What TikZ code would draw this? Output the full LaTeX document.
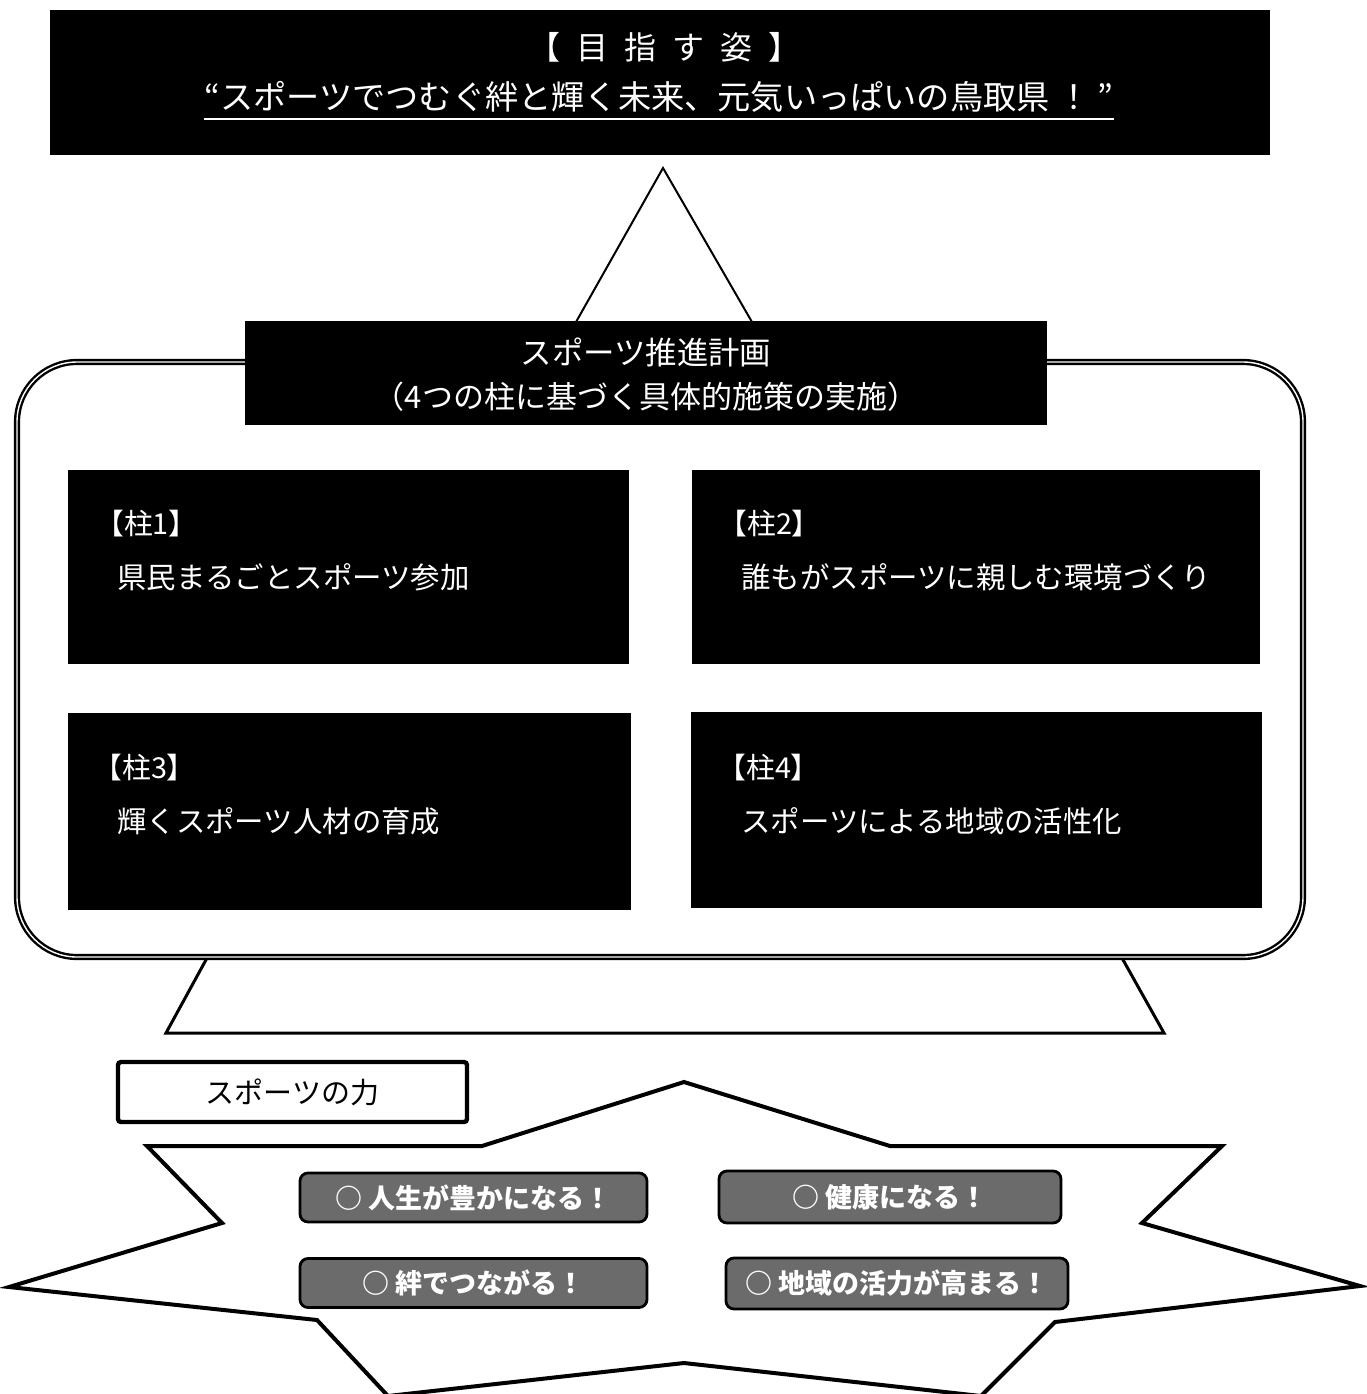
\documentclass[tikz,border=0pt]{standalone}
\usepackage{fontspec}
\setmainfont{Noto Sans CJK JP}
\begin{document}
\begin{tikzpicture}[x=0.5pt,y=-0.5pt,
  blackbox/.style={fill=black, draw=none, inner sep=0pt},
  wtext/.style={text=white, inner sep=0pt},
  pillar/.style={blackbox},
  plabel/.style={wtext, anchor=west, font=\fontsize{14.4pt}{16pt}\selectfont},
  ptext/.style={wtext, anchor=west, font=\fontsize{14.7pt}{16pt}\selectfont},
  power/.style={draw=black, line width=1.4pt, fill=black!58, rounded corners=4pt, inner sep=0pt,
    text=white, font=\fontsize{13.5pt}{15pt}\selectfont\bfseries},
  ]
\useasboundingbox[fill=white] (0,0) rectangle (1367,1394);

% top box
\node[blackbox, minimum width=610pt, minimum height=72.5pt] (top) at (660,82.5) {};
\node[wtext, font=\fontsize{16pt}{18pt}\selectfont] (title) at (664,47)
  {【\hspace{8pt}目\hspace{8pt}指\hspace{8pt}す\hspace{8pt}姿\hspace{8pt}】};
\node[wtext, font=\fontsize{16.6pt}{18pt}\selectfont] (sub) at (659,97)
  {“スポーツでつむぐ絆と輝く未来、元気いっぱいの鳥取県 ！ ”};
\draw[white, line width=1pt] ([yshift=-4.5pt]sub.base west) -- ([yshift=-4.5pt]sub.base east);

% triangle from top to plan
\coordinate (apex) at (663,168);
\coordinate (tl) at (576,322);
\coordinate (tr) at (752,322);
\draw[line width=1pt] (tl) -- (apex) -- (tr);

% trapezoid below plan
\coordinate (zl) at (207,958);
\coordinate (zbl) at (166,1033);
\coordinate (zbr) at (1164,1033);
\coordinate (zr) at (1122,958);
\draw[line width=1.5pt, line join=miter] (zl) -- (zbl) -- (zbr) -- (zr);

% rounded frame
\node[draw=black, fill=white, double=white, double distance=0.7pt, line width=1.2pt,
  rounded corners=30pt, minimum width=643pt, minimum height=297.5pt, inner sep=0pt]
  (frame) at (660,659.5) {};

% header
\node[blackbox, minimum width=401pt, minimum height=52pt] (hdr) at (646,373) {};
\node[wtext, font=\fontsize{15.7pt}{17pt}\selectfont] (h1) at (646,352) {スポーツ推進計画};
\node[wtext, font=\fontsize{15.5pt}{17pt}\selectfont] (h2) at (646,397) {（4つの柱に基づく具体的施策の実施）};

% pillars
\node[pillar, minimum width=280.5pt, minimum height=97pt] (p1) at (348.5,567) {};
\node[pillar, minimum width=284pt, minimum height=97pt] (p2) at (976,567) {};
\node[pillar, minimum width=281.5pt, minimum height=98.5pt] (p3) at (349.5,811.5) {};
\node[pillar, minimum width=285.5pt, minimum height=98pt] (p4) at (976.5,810) {};

\node[plabel] (p1l) at (95,524) {【柱1】};
\node[ptext] (p1t) at (117,577) {県民まるごとスポーツ参加};
\node[plabel] (p2l) at (718,524) {【柱2】};
\node[ptext] (p2t) at (741,577) {誰もがスポーツに親しむ環境づくり};
\node[plabel] (p3l) at (93,768) {【柱3】};
\node[ptext] (p3t) at (117,821) {輝くスポーツ人材の育成};
\node[plabel] (p4l) at (717,768) {【柱4】};
\node[ptext] (p4t) at (741,821) {スポーツによる地域の活性化};

% explosion
\draw[line width=2pt, fill=white, line join=miter]
  (684,1082) -- (890,1146) -- (1222,1146) -- (1142,1223) -- (1360,1286)
  -- (1055,1322) -- (981,1396) -- (684,1363) -- (388,1396) -- (317,1320)
  -- (9,1287) -- (222,1223) -- (147,1146) -- (482,1146) -- cycle;

% sports power label
\node[draw=black, line width=2.2pt, rounded corners=1.5pt, fill=white, minimum width=174.5pt,
  minimum height=30pt, inner sep=0pt, font=\fontsize{14.5pt}{16pt}\selectfont]
  (pw) at (292.5,1092) {スポーツの力};

% power boxes
\node[power, minimum width=173.5pt, minimum height=24.5pt] (s1) at (473.5,1197.5) {○ 人生が豊かになる！};
\node[power, minimum width=173.5pt, minimum height=24.5pt] (s2) at (473.5,1283) {○ 絆でつながる！};
\node[power, minimum width=171pt, minimum height=26pt] (s3) at (890,1197) {○ 健康になる！};
\node[power, minimum width=171pt, minimum height=25.5pt] (s4) at (897,1283.5) {○ 地域の活力が高まる！};
\end{tikzpicture}
\end{document}
